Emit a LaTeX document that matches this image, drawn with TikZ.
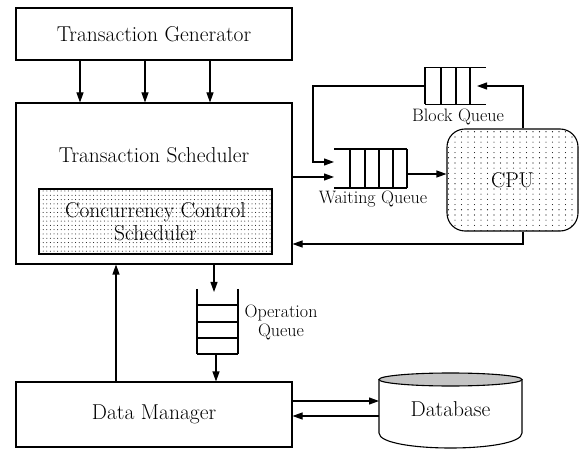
\documentclass[tikz,border=0pt]{standalone}
\usepackage{fontspec}
\usetikzlibrary{arrows.meta,patterns,patterns.meta}
\tikzdeclarepattern{
  name=ccdots,
  type=uncolored,
  bounding box={(-1pt,-1pt) and (1pt,1pt)},
  tile size={(3.6pt,4.3pt)},
  code={\pgfpathcircle{\pgfpointorigin}{0.5pt}\pgfusepath{fill}}
}
\tikzdeclarepattern{
  name=cpudots,
  type=uncolored,
  bounding box={(-1pt,-1pt) and (1pt,1pt)},
  tile size={(6.5pt,5.2pt)},
  code={\pgfpathcircle{\pgfpointorigin}{0.55pt}\pgfusepath{fill}}
}
\tikzdeclarepattern{
  name=densedots,
  type=uncolored,
  bounding box={(-1pt,-1pt) and (1pt,1pt)},
  tile size={(2pt,2pt)},
  code={\pgfpathcircle{\pgfpointorigin}{0.6pt}\pgfusepath{fill}}
}
\begin{document}
\begin{tikzpicture}[x=1pt,y=-1pt, line width=1.1pt,
  >={Triangle[length=10pt,width=7pt]},
  box/.style={draw, rectangle, inner sep=0pt},
  big/.style={font=\fontsize{21.5}{23}\selectfont},
  small/.style={font=\fontsize{18}{19}\selectfont},
  phantom/.style={inner sep=0pt, outer sep=0pt}]
\useasboundingbox (0,0) rectangle (584,449);

% main boxes
\node[box, big, minimum width=276pt, minimum height=52pt] (gen) at (154,34) {Transaction Generator};
\node[box, minimum width=276pt, minimum height=161pt] (sched) at (154,183.5) {};
\node[big] (schedtxt) at (154,155) {Transaction Scheduler};
\node[box, pattern=ccdots, minimum width=233pt, minimum height=65pt, big, align=center] (cc) at (155.5,221.5) {Concurrency Control\\Scheduler};
\node[box, big, minimum width=276pt, minimum height=65pt] (dm) at (154,414.5) {Data Manager};

% CPU
\node[draw, rounded corners=18pt, pattern=cpudots, minimum width=131pt, minimum height=102pt, big] (cpu) at (512.5,180) {CPU};

% waiting queue
\node[phantom, minimum width=73pt, minimum height=39pt] (wq) at (370.5,168.5) {};
\draw (wq.north west) -- (wq.north east) (wq.south west) -- (wq.south east);
\foreach \x in {350,365,379,393,407} \draw (\x,149) -- (\x,188);
\node[small] (wql) at (373,199) {Waiting Queue};

% block queue
\node[phantom, minimum width=61pt, minimum height=37pt] (bq) at (455.5,86) {};
\draw (bq.north west) -- (bq.north east) (bq.south west) -- (bq.south east);
\foreach \x in {425,441,456,470} \draw (\x,67.5) -- (\x,104.5);
\node[small] (bql) at (458,117) {Block Queue};
\coordinate (bqin) at (477,86);

% operation queue
\node[phantom, minimum width=41pt, minimum height=65pt] (oq) at (217.5,321.5) {};
\draw (oq.north west) -- (oq.south west) (oq.north east) -- (oq.south east);
\foreach \y in {305,322,338,354} \draw (197,\y) -- (238,\y);
\node[small, align=center] (oql) at (281,322.5) {Operation\\Queue};
\coordinate (oqin) at (214,292);

% database
\draw[fill=white] (379,379.5) -- (379,433) .. controls (379,453) and (522,453) .. (522,433) -- (522,379.5);
\draw[pattern=densedots] (450.5,379.5) ellipse [x radius=71.5pt, y radius=6.5pt];
\node[phantom, big, minimum width=143pt, minimum height=48pt] (db) at (450.5,409) {Database};

% connectors
\foreach \x in {80,145,210} \draw[->] (gen.south -| \x,0) -- (sched.north -| \x,0);
\draw[->] (sched.east |- 0,177) -- (wq.west |- 0,177);
\draw[->] (bq.west) -| (313,162) -- (wq.west |- 0,162);
\draw[->] (wq.east |- 0,174) -- (cpu.west |- 0,174);
\draw[->] (cpu.north -| 523,0) |- (bqin);
\draw[->] (cpu.south -| 523,0) |- (sched.east |- 0,244);
\draw[->] (sched.south -| 214,0) -- (oqin);
\draw[->] (oq.south -| 216,0) -- (dm.north -| 216,0);
\draw[->] (dm.north -| 116,0) -- (sched.south -| 116,0);
\draw[->] (dm.east |- 0,401) -- (db.west |- 0,401);
\draw[->] (db.west |- 0,416) -- (dm.east |- 0,416);
\end{tikzpicture}
\end{document}
